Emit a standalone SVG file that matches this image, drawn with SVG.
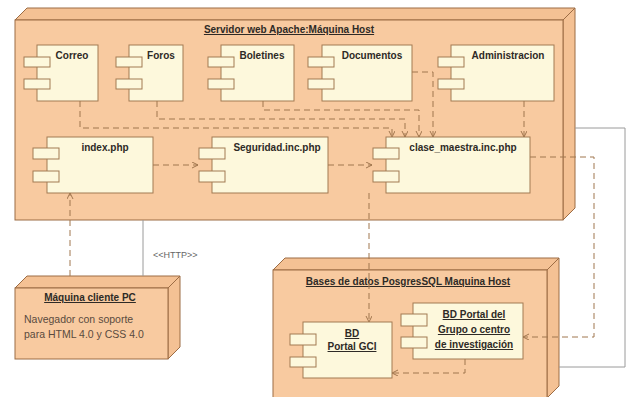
<svg xmlns="http://www.w3.org/2000/svg" width="629" height="397" viewBox="0 0 629 397">
<defs>
<marker id="arr" markerWidth="8" markerHeight="8" refX="6" refY="3" orient="auto" markerUnits="userSpaceOnUse">
<path d="M0,0 L6,3 L0,6" fill="none" stroke="#a0764e" stroke-width="1"/>
</marker>
<style>
.nf{fill:#f8caa0;stroke:#9c6c44;stroke-width:1}
.nd{fill:#f4c194;stroke:#9c6c44;stroke-width:1}
.cb{fill:#fdf8dc;stroke:#a27a52;stroke-width:1}
.t{font-family:"Liberation Sans",Arial,sans-serif;font-size:10px;font-weight:bold;fill:#2e2a26;text-anchor:middle}
.u{text-decoration:underline}
.n{font-family:"Liberation Sans",Arial,sans-serif;font-size:10.5px;fill:#5a4a3e}
.d{fill:none;stroke:#a0764e;stroke-width:1;stroke-dasharray:6,4}
.g{fill:none;stroke:#9a9a9a;stroke-width:1}
.h{font-family:"Liberation Sans",Arial,sans-serif;font-size:9px;fill:#666}
</style>
</defs>
<rect width="629" height="397" fill="#ffffff"/>

<g id="servidor">
<polygon class="nd" points="15,20 27,8 575,8 563,20"/>
<polygon class="nd" points="563,20 575,8 575,208 563,220"/>
<rect class="nf" x="15" y="20" width="548" height="200"/>
<text class="t u" x="289" y="33">Servidor web Apache:Máquina Host</text>
</g>

<g id="cliente">
<polygon class="nd" points="15,288 27,276 180,276 168,288"/>
<polygon class="nd" points="168,288 180,276 180,347 168,359"/>
<rect class="nf" x="15" y="288" width="153" height="71"/>
<text class="t u" x="90" y="301">Máquina cliente PC</text>
<text class="n" x="24" y="323">Navegador con soporte</text>
<text class="n" x="24" y="338">para HTML 4.0 y CSS 4.0</text>
</g>

<g id="bd">
<polygon class="nd" points="273,270 285,258 559,258 547,270"/>
<polygon class="nd" points="547,270 559,258 559,386 547,398"/>
<rect class="nf" x="273" y="270" width="274" height="140"/>
<text class="t u" x="408" y="285">Bases de datos PosgresSQL Maquina Host</text>
</g>

<g id="correo">
<rect class="cb" x="37" y="45" width="61" height="56"/>
<rect class="cb" x="24" y="57" width="26" height="10"/>
<rect class="cb" x="24" y="79" width="26" height="10"/>
<text class="t" x="72" y="59">Correo</text>
</g>
<g id="foros">
<rect class="cb" x="129" y="45" width="54" height="56"/>
<rect class="cb" x="116" y="57" width="26" height="10"/>
<rect class="cb" x="116" y="79" width="26" height="10"/>
<text class="t" x="161" y="59">Foros</text>
</g>
<g id="boletines">
<rect class="cb" x="221" y="45" width="73" height="56"/>
<rect class="cb" x="208" y="57" width="26" height="10"/>
<rect class="cb" x="208" y="79" width="26" height="10"/>
<text class="t" x="262" y="59">Boletines</text>
</g>
<g id="documentos">
<rect class="cb" x="322" y="45" width="90" height="56"/>
<rect class="cb" x="308" y="57" width="26" height="10"/>
<rect class="cb" x="308" y="79" width="26" height="10"/>
<text class="t" x="372" y="59">Documentos</text>
</g>
<g id="administracion">
<rect class="cb" x="451" y="45" width="103" height="56"/>
<rect class="cb" x="438" y="57" width="26" height="10"/>
<rect class="cb" x="438" y="79" width="26" height="10"/>
<text class="t" x="508" y="59">Administracion</text>
</g>
<g id="index">
<rect class="cb" x="47" y="137" width="106" height="56"/>
<rect class="cb" x="33" y="148" width="26" height="11"/>
<rect class="cb" x="33" y="171" width="26" height="11"/>
<text class="t" x="105" y="151">index.php</text>
</g>
<g id="seguridad">
<rect class="cb" x="212" y="137" width="116" height="56"/>
<rect class="cb" x="199" y="148" width="26" height="11"/>
<rect class="cb" x="199" y="171" width="26" height="11"/>
<text class="t" x="277" y="151">Seguridad.inc.php</text>
</g>
<g id="clase_maestra">
<rect class="cb" x="386" y="137" width="144" height="56"/>
<rect class="cb" x="373" y="148" width="26" height="11"/>
<rect class="cb" x="373" y="171" width="26" height="11"/>
<text class="t" x="463" y="151">clase_maestra.inc.php</text>
</g>
<g id="bd_gci">
<rect class="cb" x="303" y="322" width="89" height="56"/>
<rect class="cb" x="290" y="334" width="26" height="11"/>
<rect class="cb" x="290" y="357" width="26" height="10"/>
<text class="t u" x="352" y="337">BD</text>
<text class="t u" x="352" y="350">Portal GCI</text>
</g>
<g id="bd_grupo">
<rect class="cb" x="413" y="303" width="110" height="56"/>
<rect class="cb" x="401" y="314" width="26" height="12"/>
<rect class="cb" x="401" y="337" width="26" height="11"/>
<text class="t u" x="474" y="318">BD Portal del</text>
<text class="t u" x="474" y="333">Grupo o centro</text>
<text class="t u" x="474" y="348">de investigación</text>
</g>

<g id="connectors">
<path class="d" d="M80,101 V128 H392 V137" marker-end="url(#arr)"/>
<path class="d" d="M157,101 V119 H405 V137" marker-end="url(#arr)"/>
<path class="d" d="M263,101 V110 H419 V137" marker-end="url(#arr)"/>
<path class="d" d="M412,72 H433 V137" marker-end="url(#arr)"/>
<path class="d" d="M524,101 V137" marker-end="url(#arr)"/>
<path class="d" d="M153,165 H198" marker-end="url(#arr)"/>
<path class="d" d="M328,165 H372" marker-end="url(#arr)"/>
<path class="d" d="M530,157 H594 V337 H523" marker-end="url(#arr)"/>
<path class="d" d="M369,193 V322" marker-end="url(#arr)"/>
<path class="d" d="M465,359 V373 H392" marker-end="url(#arr)"/>
<path class="d" d="M70,276 V193" marker-end="url(#arr)"/>
<path class="g" d="M143,220 V276"/>
<path class="g" d="M575,128 H625 V367 H559"/>
<text class="h" x="153" y="258">&lt;&lt;HTTP&gt;&gt;</text>
</g>
</svg>
